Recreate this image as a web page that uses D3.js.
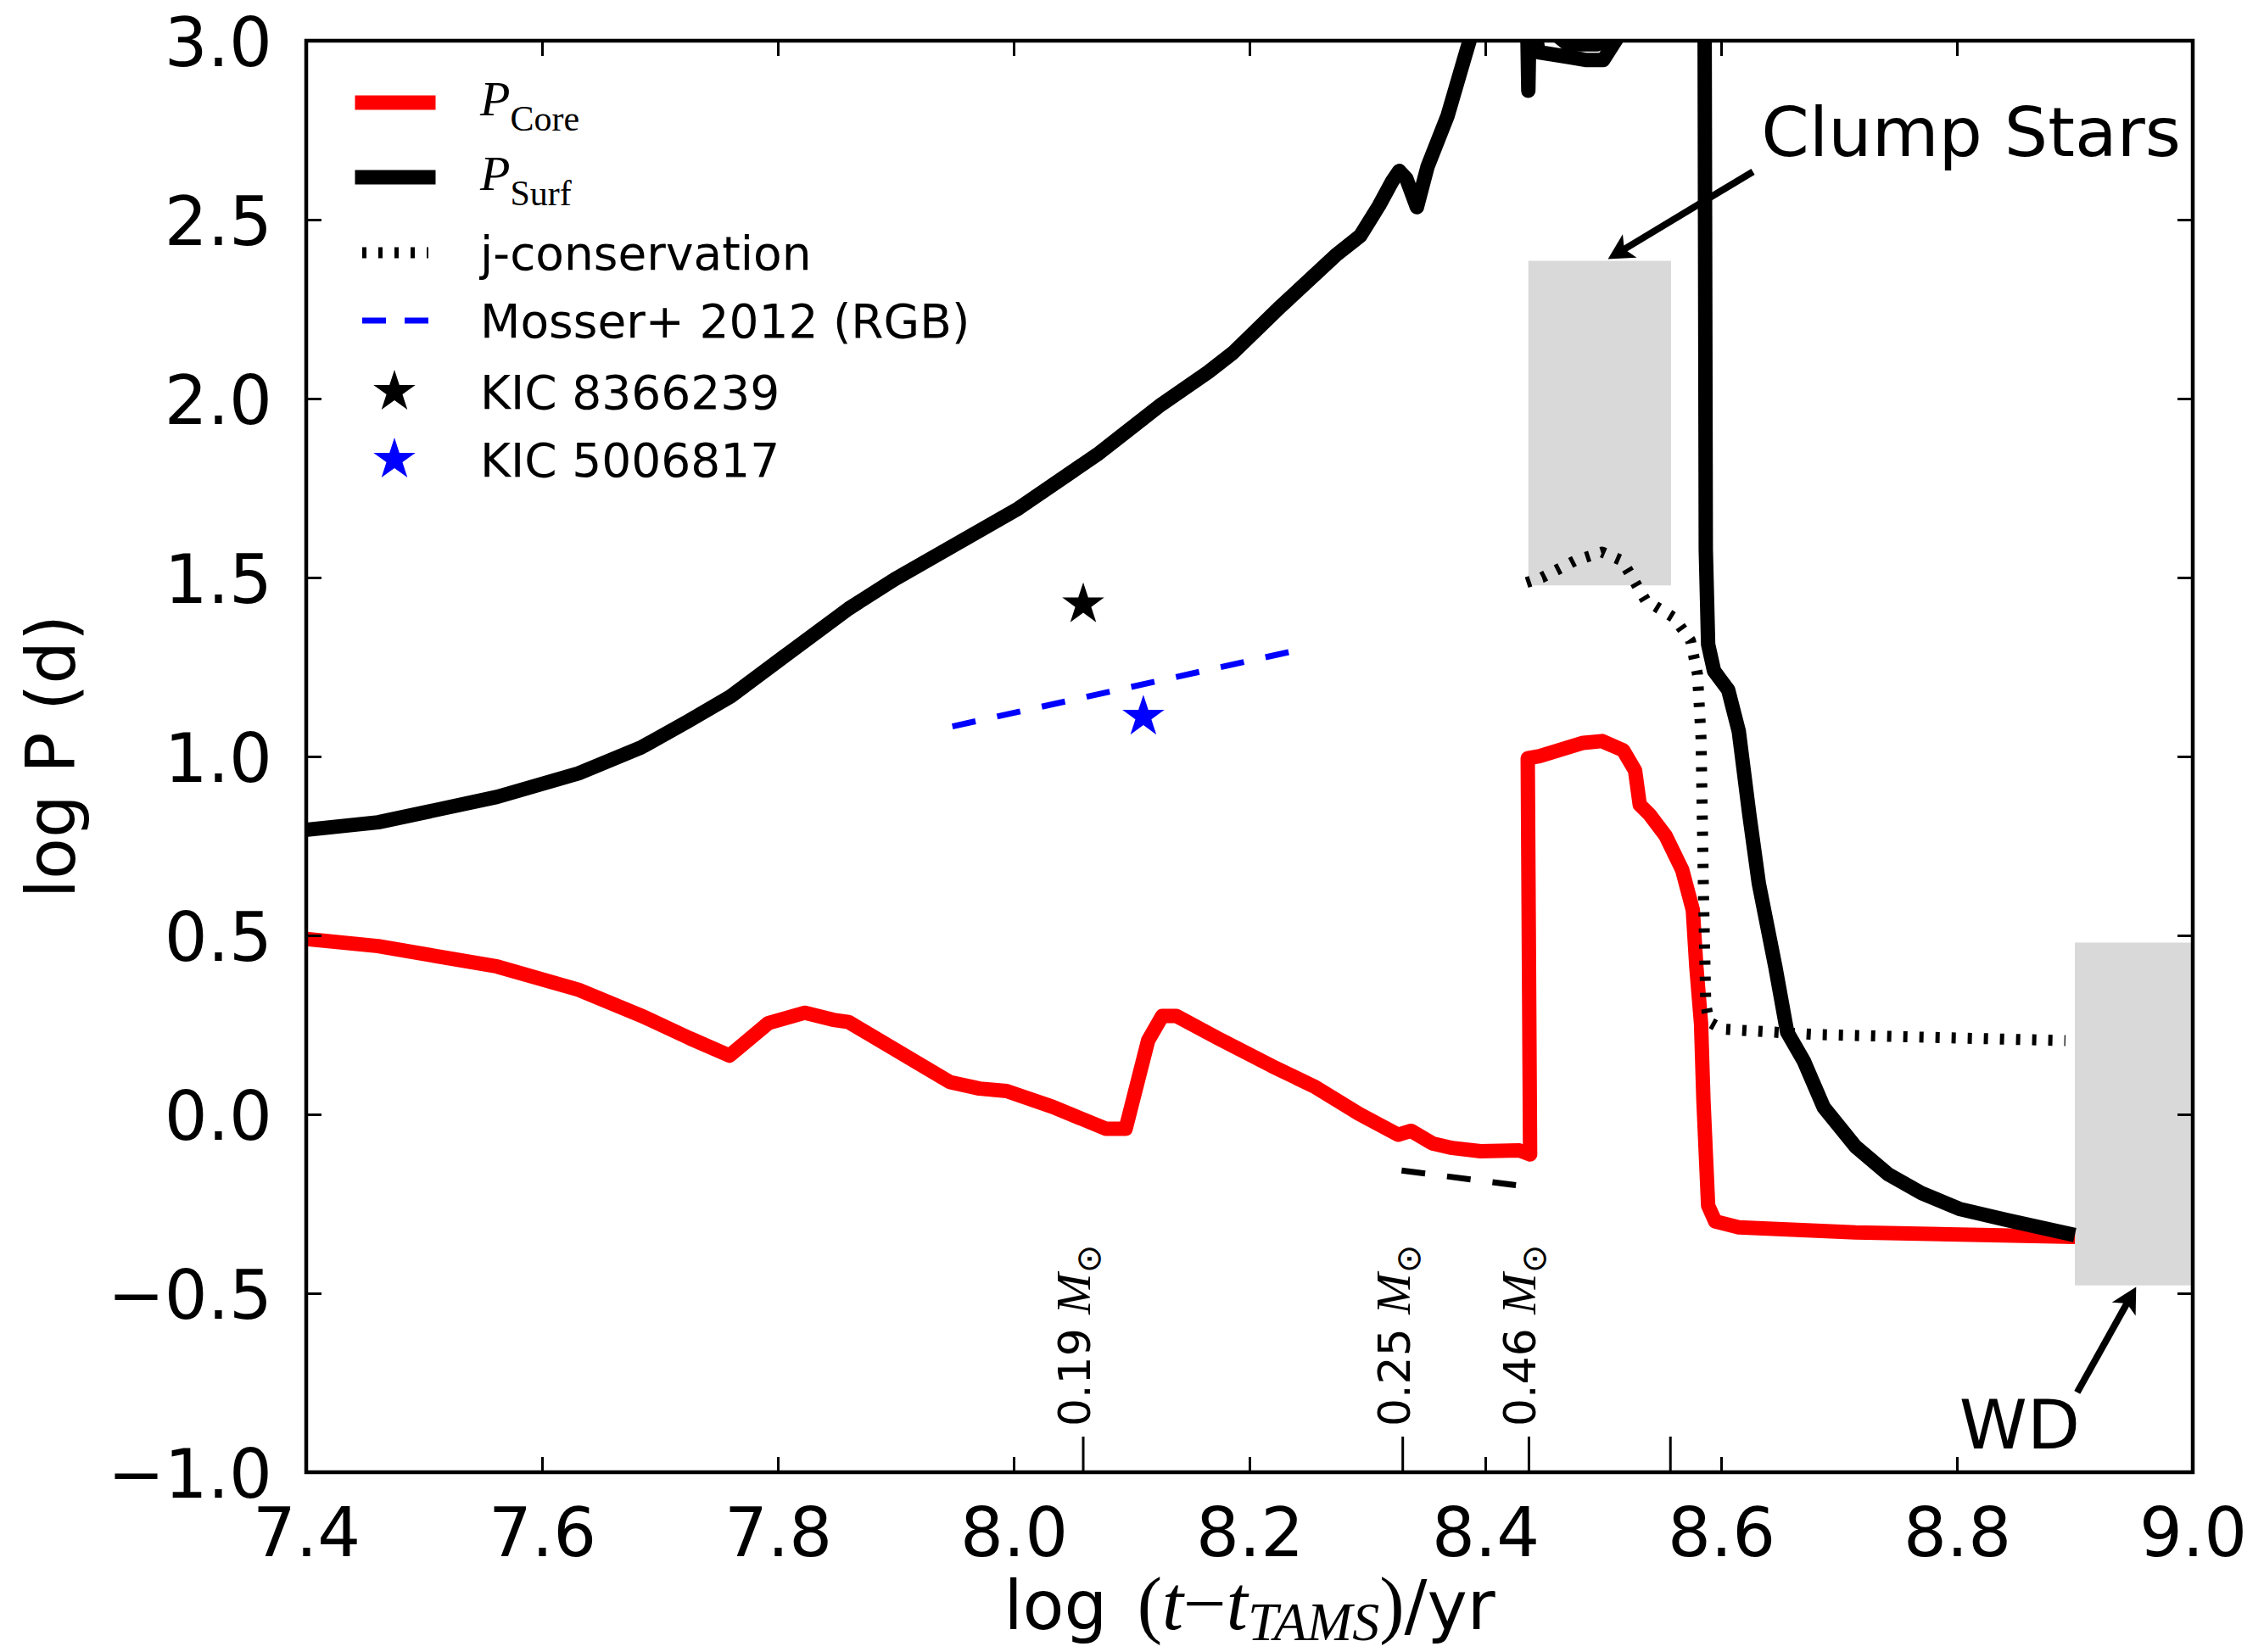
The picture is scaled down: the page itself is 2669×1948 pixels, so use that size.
<!DOCTYPE html>
<html lang="en">
<head>
<meta charset="UTF-8" />
<title>log P vs log (t - t_TAMS)</title>
<script src="https://cdn.jsdelivr.net/npm/d3@7"></script>
<style>
  body { margin: 0; background: #fff; }
  svg { display: block; background: #fff; font-family: "DejaVu Sans", sans-serif; }
</style>
</head>
<body>
<svg width="2669" height="1948"></svg>
<script>
// ---- data ----
const xTicks = [7.4, 7.6, 7.8, 8.0, 8.2, 8.4, 8.6, 8.8, 9.0];
const yTicks = [-1.0, -0.5, 0.0, 0.5, 1.0, 1.5, 2.0, 2.5, 3.0];
const massTicks = [8.059, 8.330, 8.437, 8.557];
const massLabels = ['0.19', '0.25', '0.46', ''];

const pCore = [[7.400,0.490],[7.461,0.470],[7.562,0.413],[7.631,0.348],[7.684,0.276],[7.725,0.213],
  [7.759,0.164],[7.792,0.255],[7.823,0.284],[7.847,0.264],[7.860,0.258],[7.946,0.090],[7.971,0.072],
  [7.994,0.065],[8.033,0.021],[8.078,-0.040],[8.095,-0.040],[8.114,0.206],[8.126,0.275],[8.138,0.275],
  [8.173,0.213],[8.219,0.135],[8.256,0.076],[8.293,0.001],[8.326,-0.057],[8.337,-0.046],[8.355,-0.081],
  [8.372,-0.094],[8.396,-0.103],[8.429,-0.101],[8.438,-0.112],[8.436,0.995],[8.446,1.001],[8.483,1.038],
  [8.499,1.043],[8.517,1.017],[8.527,0.961],[8.531,0.865],[8.539,0.839],[8.553,0.778],[8.567,0.683],
  [8.576,0.571],[8.579,0.412],[8.583,0.253],[8.585,0.040],[8.589,-0.255],[8.595,-0.299],[8.615,-0.316],
  [8.714,-0.330],[8.894,-0.342]];

const pSurfRGB = [[7.400,0.795],[7.461,0.816],[7.562,0.887],[7.631,0.953],[7.684,1.025],[7.723,1.097],
  [7.760,1.168],[7.806,1.281],[7.860,1.413],[7.899,1.495],[8.004,1.693],[8.071,1.844],[8.125,1.983],
  [8.165,2.074],[8.186,2.128],[8.226,2.256],[8.273,2.400],[8.294,2.455],[8.310,2.540],[8.321,2.607],
  [8.327,2.636],[8.333,2.615],[8.342,2.535],[8.351,2.648],[8.368,2.790],[8.382,2.948],[8.392,3.060]];
const pSurfSpike = [[8.4355,3.06],[8.4365,2.86],[8.4375,3.06]];
const pSurfFlash = [[8.441,3.06],[8.445,2.968],[8.470,2.955],[8.486,2.946],[8.500,2.946],[8.522,3.06]];
const pSurfLoop = [[8.455,3.03],[8.470,2.99],[8.495,2.99],[8.505,3.03]];
const pSurfDescent = [[8.586,3.06],[8.587,1.578],[8.589,1.313],[8.594,1.239],[8.606,1.186],[8.615,1.070],
  [8.624,0.836],[8.632,0.645],[8.646,0.412],[8.656,0.230],[8.670,0.150],[8.687,0.020],[8.714,-0.090],
  [8.742,-0.168],[8.770,-0.220],[8.802,-0.264],[8.842,-0.295],[8.894,-0.333]];

const jCons = [[8.435,1.486],[8.448,1.500],[8.476,1.547],[8.499,1.571],[8.516,1.547],[8.526,1.492],
  [8.536,1.436],[8.560,1.388],[8.574,1.324],[8.580,1.229],[8.583,1.049],[8.585,0.624],[8.587,0.306],
  [8.590,0.258],[8.601,0.238],[8.680,0.223],[8.892,0.206]];

const mosser = [[7.948,1.084],[8.238,1.295]];
const coreDashed = [[8.329,-0.157],[8.426,-0.198]];
const kic8366239 = [8.059, 1.425];
const kic5006817 = [8.110, 1.111];

const clumpBox = [8.4365, 8.5575, 1.478, 2.385];
const wdBox = [8.900, 9.000, -0.478, 0.480];
const clumpArrow = [[8.627, 2.634], [8.504, 2.390]];
const wdArrow = [[8.902, -0.777], [8.952, -0.482]];
const clumpLabel = [8.634, 2.678];
const wdLabel = [8.802, -0.933];

const legendNames = ['Core', 'Surf', 'j-conservation', 'Mosser+ 2012 (RGB)', 'KIC 8366239', 'KIC 5006817'];

// ---- scales ----
const svg = d3.select('svg');
const x = d3.scaleLinear().domain([7.4, 9.0]).range([361, 2585]);
const y = d3.scaleLinear().domain([-1.0, 3.0]).range([1736, 48]);
const fmt = d => d3.format('.1f')(d).replace('-', '\u2212');
const line = d3.line().x(d => x(d[0])).y(d => y(d[1]));
const serif = '"Liberation Serif", serif';

svg.append('defs').append('clipPath').attr('id', 'plot')
  .append('rect')
  .attr('x', x(7.4)).attr('y', y(3))
  .attr('width', x(9) - x(7.4)).attr('height', y(-1) - y(3));

// grey regions
svg.append('g').selectAll('rect')
  .data([clumpBox, wdBox])
  .join('rect')
  .attr('x', d => x(d[0]))
  .attr('y', d => y(d[3]))
  .attr('width', d => x(d[1]) - x(d[0]))
  .attr('height', d => y(d[2]) - y(d[3]))
  .attr('fill', '#d9d9d9');

const plot = svg.append('g').attr('clip-path', 'url(#plot)');

function drawLine(data, color, width, dash, cap) {
  plot.append('path')
    .datum(data)
    .attr('d', line)
    .attr('fill', 'none')
    .attr('stroke', color)
    .attr('stroke-width', width)
    .attr('stroke-linejoin', 'round')
    .attr('stroke-linecap', cap || 'butt')
    .attr('stroke-dasharray', dash);
}

drawLine(pCore, '#ff0000', 17, null, 'square');
[pSurfRGB, pSurfSpike, pSurfFlash, pSurfLoop, pSurfDescent].forEach(s => drawLine(s, '#000', 17, null, 'square'));
drawLine(jCons, '#000', 13, '5,14');
drawLine(mosser, '#0000ff', 7, '28,26');
drawLine(coreDashed, '#000', 7, '28,26');

const star = d3.symbol(d3.symbolStar, 760);
plot.append('path').attr('d', star).attr('fill', '#000')
  .attr('transform', `translate(${x(kic8366239[0])},${y(kic8366239[1])})`);
plot.append('path').attr('d', star).attr('fill', '#0000ff')
  .attr('transform', `translate(${x(kic5006817[0])},${y(kic5006817[1])})`);

// ---- axes ----
function styleAxis(g) {
  g.select('.domain').remove();
  g.selectAll('.tick line').attr('stroke', '#000').attr('stroke-width', 3);
  g.attr('font-size', 80).attr('font-family', '"DejaVu Sans", sans-serif');
  g.selectAll('.tick text').attr('fill', '#000');
}

svg.append('g')
  .attr('transform', `translate(0,${y(-1)})`)
  .call(d3.axisBottom(x).tickValues(xTicks).tickFormat(fmt).tickSizeInner(-18).tickSizeOuter(0).tickPadding(42))
  .call(styleAxis);

svg.append('g')
  .attr('transform', `translate(0,${y(3)})`)
  .call(d3.axisTop(x).tickValues(xTicks).tickFormat('').tickSizeInner(-18).tickSizeOuter(0))
  .call(styleAxis);

svg.append('g')
  .attr('transform', `translate(${x(7.4)},0)`)
  .call(d3.axisLeft(y).tickValues(yTicks).tickFormat(fmt).tickSizeInner(-18).tickSizeOuter(0).tickPadding(40))
  .call(styleAxis)
  .selectAll('.tick text').attr('dy', '0.37em');

svg.append('g')
  .attr('transform', `translate(${x(9)},0)`)
  .call(d3.axisRight(y).tickValues(yTicks).tickFormat('').tickSizeInner(-18).tickSizeOuter(0))
  .call(styleAxis);

// core mass markers on the time axis
const mass = svg.append('g');
mass.selectAll('line')
  .data(massTicks)
  .join('line')
  .attr('x1', d => x(d)).attr('x2', d => x(d))
  .attr('y1', y(-1)).attr('y2', y(-1) - 42)
  .attr('stroke', '#000').attr('stroke-width', 3);

const massText = mass.selectAll('text')
  .data(massTicks.map((d, i) => [d, massLabels[i]]).filter(d => d[1] !== ''))
  .join('text')
  .attr('transform', d => `translate(${x(d[0]) + 8},${y(-1) - 54}) rotate(-90)`)
  .attr('font-size', 52);
massText.append('tspan').text(d => d[1] + ' ');
massText.append('tspan').attr('font-family', serif).attr('font-style', 'italic')
  .attr('font-size', 58).text('M');
massText.append('tspan').attr('font-size', 40).attr('dy', 12).text('\u2299');

// frame
svg.append('rect')
  .attr('x', x(7.4)).attr('y', y(3))
  .attr('width', x(9) - x(7.4)).attr('height', y(-1) - y(3))
  .attr('fill', 'none').attr('stroke', '#000').attr('stroke-width', 4.5);

// axis labels
const xl = svg.append('text')
  .attr('x', (x(7.4) + x(9)) / 2).attr('y', 1921)
  .attr('text-anchor', 'middle').attr('font-size', 80);
xl.append('tspan').text('log ');
xl.append('tspan').attr('dx', 10).attr('font-family', serif).attr('font-size', 88).text('(');
xl.append('tspan').attr('font-family', serif).attr('font-style', 'italic').attr('font-size', 90).text('t');
xl.append('tspan').attr('font-family', serif).attr('font-size', 90).text('\u2212');
xl.append('tspan').attr('font-family', serif).attr('font-style', 'italic').attr('font-size', 90).text('t');
xl.append('tspan').attr('font-family', serif).attr('font-style', 'italic').attr('font-size', 64).attr('dy', 13).text('TAMS');
xl.append('tspan').attr('font-family', serif).attr('font-size', 88).attr('dy', -13).text(')');
xl.append('tspan').text('/yr');

svg.append('text')
  .attr('transform', `translate(88,${(y(-1) + y(3)) / 2}) rotate(-90)`)
  .attr('text-anchor', 'middle').attr('font-size', 80)
  .text('log P (d)');

// annotations
function arrow(a) {
  const [x0, y0] = [x(a[0][0]), y(a[0][1])];
  const [x1, y1] = [x(a[1][0]), y(a[1][1])];
  const len = Math.hypot(x1 - x0, y1 - y0);
  const ux = (x1 - x0) / len, uy = (y1 - y0) / len;
  const nx = -uy, ny = ux;
  const L = 30, W = 16;
  svg.append('line')
    .attr('x1', x0).attr('y1', y0)
    .attr('x2', x1 - ux * L * 0.7).attr('y2', y1 - uy * L * 0.7)
    .attr('stroke', '#000').attr('stroke-width', 8);
  const bx = x1 - ux * L, by = y1 - uy * L;
  svg.append('path')
    .attr('d', `M${x1},${y1}L${bx + nx * W},${by + ny * W}L${x1 - ux * L * 0.75},${y1 - uy * L * 0.75}L${bx - nx * W},${by - ny * W}Z`)
    .attr('fill', '#000');
}
arrow(clumpArrow);
arrow(wdArrow);

svg.append('text').attr('x', x(clumpLabel[0])).attr('y', y(clumpLabel[1]))
  .attr('font-size', 81).text('Clump Stars');
svg.append('text').attr('x', x(wdLabel[0])).attr('y', y(wdLabel[1]))
  .attr('font-size', 81).text('WD');

// ---- legend ----
const rows = [121, 209, 298, 378, 462, 542];
const lg = svg.append('g');
const hx0 = 427, hx1 = 505, tx = 566;

lg.append('line').attr('x1', hx0).attr('x2', hx1).attr('y1', rows[0]).attr('y2', rows[0])
  .attr('stroke', '#ff0000').attr('stroke-width', 17).attr('stroke-linecap', 'square');
lg.append('line').attr('x1', hx0).attr('x2', hx1).attr('y1', rows[1]).attr('y2', rows[1])
  .attr('stroke', '#000').attr('stroke-width', 17).attr('stroke-linecap', 'square');
lg.append('line').attr('x1', hx0).attr('x2', hx1).attr('y1', rows[2]).attr('y2', rows[2])
  .attr('stroke', '#000').attr('stroke-width', 13).attr('stroke-dasharray', '5,14');
lg.append('line').attr('x1', hx0).attr('x2', hx1).attr('y1', rows[3]).attr('y2', rows[3])
  .attr('stroke', '#0000ff').attr('stroke-width', 7).attr('stroke-dasharray', '28,22');
lg.append('path').attr('d', star).attr('fill', '#000').attr('transform', `translate(465,${rows[4]})`);
lg.append('path').attr('d', star).attr('fill', '#0000ff').attr('transform', `translate(465,${rows[5]})`);

legendNames.forEach((name, i) => {
  const t = lg.append('text').attr('x', tx).attr('y', rows[i] + (i < 2 ? 15 : 20)).attr('font-size', 55);
  if (i < 2) {
    t.append('tspan').attr('font-family', serif).attr('font-style', 'italic').attr('font-size', 58).text('P');
    t.append('tspan').attr('font-family', serif).attr('font-size', 42).attr('dy', 18).text(name);
  } else {
    t.text(name);
  }
});
</script>
</body>
</html>
